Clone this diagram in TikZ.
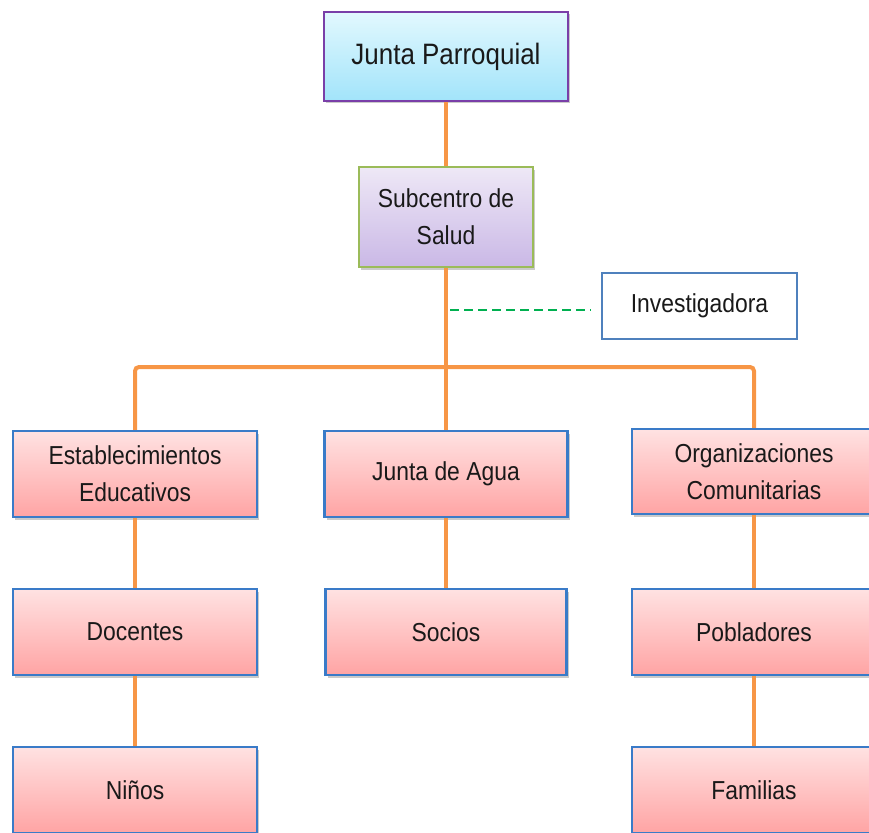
\documentclass[tikz,border=0pt]{standalone}
\usepackage{fontspec}
\setmainfont[FakeStretch=0.88]{Liberation Sans}
\usetikzlibrary{shadows}
\definecolor{conn}{HTML}{F79646}
\definecolor{dashgreen}{HTML}{00B050}
\definecolor{boxblue}{HTML}{3A7BC8}
\definecolor{invblue}{HTML}{4F81BD}
\definecolor{jpurple}{HTML}{7A3FA8}
\definecolor{sgreen}{HTML}{9BBB59}
\definecolor{jtop}{HTML}{E2F8FE}
\definecolor{jbot}{HTML}{A2E4FA}
\definecolor{stop}{HTML}{EEE8F6}
\definecolor{sbot}{HTML}{CAB8E6}
\definecolor{ptop}{HTML}{FFE2E2}
\definecolor{pbot}{HTML}{FFA4A4}
\begin{document}
\begin{tikzpicture}[x=1pt,y=-1pt,
  base/.style={rectangle, line width=2.2pt, align=center, text=black!90,
    font=\fontsize{26}{37}\selectfont, inner sep=0pt,
    drop shadow={shadow xshift=2pt, shadow yshift=-2.5pt, opacity=0.35, fill=black!60}},
  pinkbox/.style={base, draw=boxblue, top color=ptop, bottom color=pbot,
    minimum width=244pt, minimum height=86pt},
  conline/.style={draw=conn, line width=4pt},
  dashline/.style={draw=dashgreen, line width=2pt, dash pattern=on 9pt off 5pt}]
\useasboundingbox (0,0) rectangle (869,832);
\node[base, draw=jpurple, top color=jtop, bottom color=jbot,
  minimum width=244pt, minimum height=89pt, font=\fontsize{29.5}{36}\selectfont]
  (junta) at (446,56.5) {Junta Parroquial};
\node[base, draw=sgreen, top color=stop, bottom color=sbot,
  minimum width=174pt, minimum height=100pt] (sub) at (446,217) {Subcentro de\\Salud};
\node[rectangle, draw=invblue, line width=1.6pt, fill=white, minimum width=195pt,
  minimum height=66pt, font=\fontsize{26}{37}\selectfont, text=black!90]
  (inv) at (699.5,306) {Investigadora};
\node[pinkbox] (est) at (135,474) {Establecimientos\\Educativos};
\node[pinkbox, minimum width=243pt] (agua) at (446,474) {Junta de Agua};
\node[pinkbox, minimum height=85pt] (org) at (754,471.5) {Organizaciones\\Comunitarias};
\node[pinkbox] (doc) at (135,632) {Docentes};
\node[pinkbox, minimum width=241pt] (soc) at (446,632) {Socios};
\node[pinkbox] (pob) at (754,632) {Pobladores};
\node[pinkbox] (nin) at (135,790) {Niños};
\node[pinkbox] (fam) at (754,790) {Familias};
\coordinate (bus) at (446,367);
\coordinate (dstart) at (450,310);
\draw[conline] (junta.south) -- (sub.north);
\draw[conline] (sub.south) -- (agua.north);
\draw[conline, rounded corners=4pt] (est.north) |- (bus) -| (org.north);
\draw[conline] (est.south) -- (doc.north);
\draw[conline] (doc.south) -- (nin.north);
\draw[conline] (agua.south) -- (soc.north);
\draw[conline] (org.south) -- (pob.north);
\draw[conline] (pob.south) -- (fam.north);
\draw[dashline] (dstart) -- ([xshift=-10pt]dstart -| inv.west);
\end{tikzpicture}
\end{document}
